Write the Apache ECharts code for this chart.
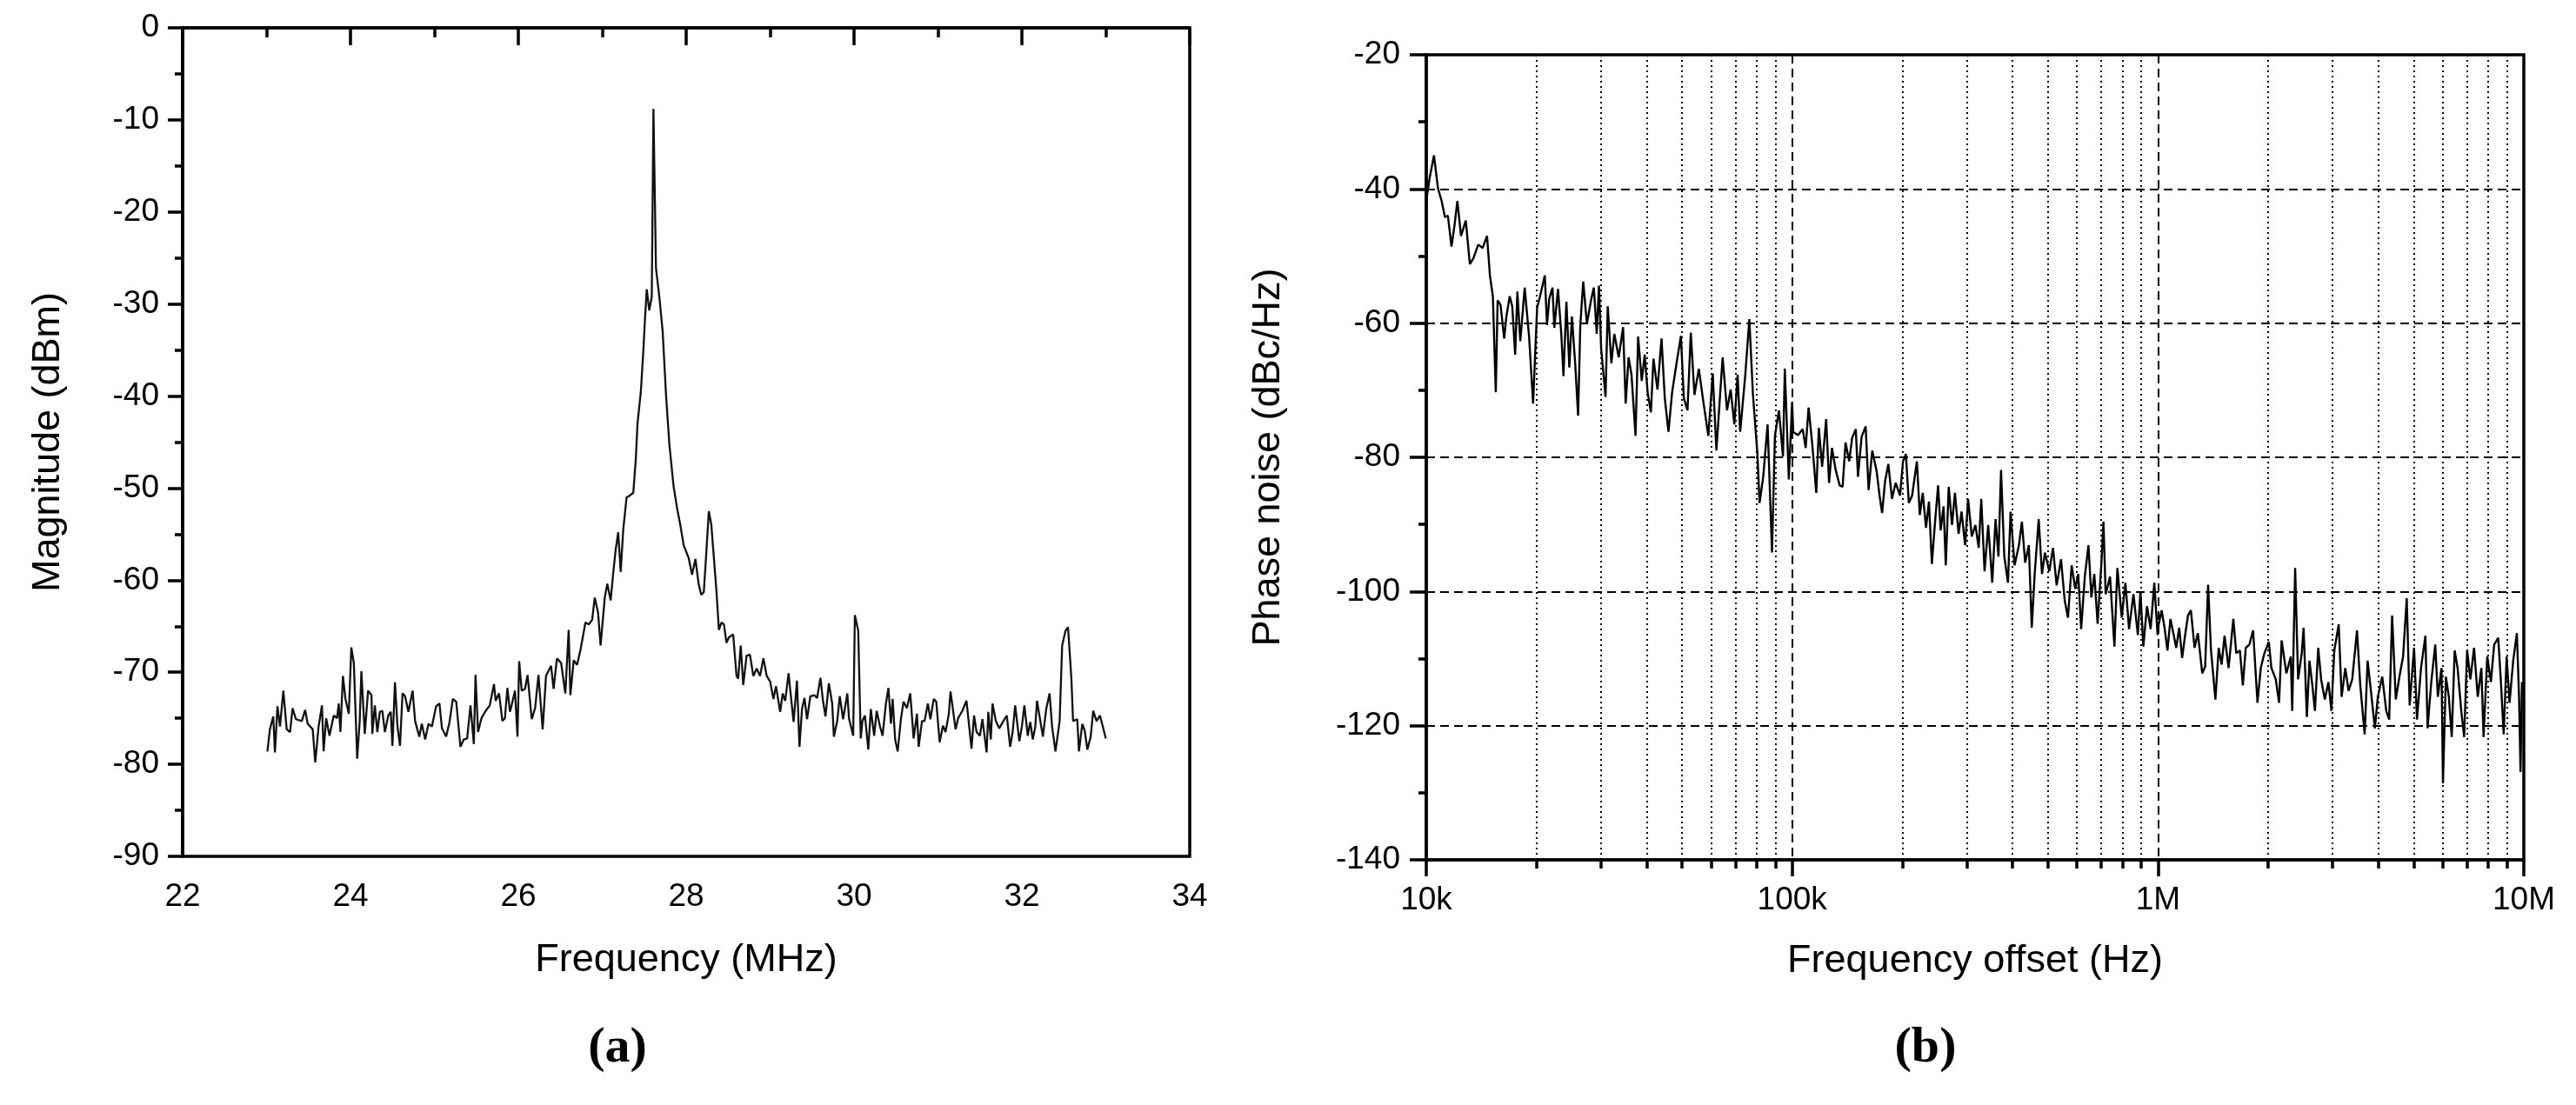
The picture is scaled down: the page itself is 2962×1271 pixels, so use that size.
<!DOCTYPE html>
<html style="height: 100%">
<head>
<meta charset="utf-8">
</head>
<body style="height: 100%; margin: 0; background: #fff">
<div id="container" style="width: 2962px; height: 1271px"></div>
<script type="text/javascript" src="https://cdn.jsdelivr.net/npm/echarts@6/dist/echarts.min.js"></script>
<script type="text/javascript">
// (a) spectrum: frequency in MHz, magnitude in dBm
var specFreq = [
	23.01, 23.04, 23.08, 23.10, 23.13, 23.16, 23.20, 23.24, 23.28, 23.31, 23.35, 23.42, 23.46, 23.49, 23.55, 23.58,
	23.62, 23.66, 23.68, 23.71, 23.75, 23.80, 23.84, 23.86, 23.88, 23.91, 23.94, 23.98, 24.01, 24.04, 24.08, 24.11,
	24.13, 24.17, 24.21, 24.25, 24.26, 24.29, 24.32, 24.35, 24.38, 24.41, 24.45, 24.48, 24.50, 24.53, 24.56, 24.59,
	24.62, 24.65, 24.69, 24.74, 24.77, 24.82, 24.85, 24.89, 24.93, 24.97, 25.02, 25.06, 25.09, 25.14, 25.18, 25.22,
	25.26, 25.31, 25.35, 25.39, 25.43, 25.47, 25.49, 25.52, 25.56, 25.61, 25.66, 25.71, 25.73, 25.77, 25.81, 25.84,
	25.87, 25.90, 25.92, 25.96, 25.99, 26.01, 26.04, 26.08, 26.11, 26.16, 26.20, 26.24, 26.29, 26.33, 26.39, 26.42,
	26.46, 26.51, 26.56, 26.60, 26.62, 26.66, 26.70, 26.74, 26.80, 26.84, 26.88, 26.91, 26.95, 26.98, 27.03, 27.06,
	27.10, 27.13, 27.16, 27.19, 27.22, 27.25, 27.29, 27.33, 27.37, 27.40, 27.42, 27.46, 27.49, 27.51, 27.53, 27.56,
	27.59, 27.61, 27.64, 27.68, 27.72, 27.76, 27.80, 27.85, 27.89, 27.93, 27.97, 28.03, 28.07, 28.11, 28.15, 28.18,
	28.21, 28.24, 28.27, 28.30, 28.32, 28.36, 28.39, 28.42, 28.45, 28.48, 28.51, 28.56, 28.60, 28.62, 28.65, 28.68,
	28.72, 28.76, 28.80, 28.84, 28.88, 28.92, 28.96, 29.00, 29.04, 29.07, 29.12, 29.15, 29.18, 29.22, 29.25, 29.28,
	29.32, 29.35, 29.38, 29.41, 29.44, 29.48, 29.53, 29.56, 29.60, 29.63, 29.66, 29.70, 29.74, 29.76, 29.80, 29.83,
	29.87, 29.92, 29.94, 29.99, 30.01, 30.05, 30.08, 30.10, 30.13, 30.17, 30.20, 30.24, 30.27, 30.31, 30.34, 30.38,
	30.41, 30.44, 30.46, 30.49, 30.52, 30.56, 30.59, 30.63, 30.67, 30.71, 30.75, 30.77, 30.81, 30.84, 30.88, 30.91,
	30.95, 30.98, 31.02, 31.06, 31.09, 31.13, 31.15, 31.21, 31.24, 31.29, 31.34, 31.40, 31.43, 31.46, 31.50, 31.53,
	31.58, 31.60, 31.63, 31.65, 31.69, 31.73, 31.78, 31.82, 31.86, 31.89, 31.92, 31.97, 32.00, 32.03, 32.07, 32.10,
	32.13, 32.16, 32.18, 32.22, 32.25, 32.29, 32.33, 32.36, 32.40, 32.45, 32.48, 32.52, 32.55, 32.59, 32.61, 32.66,
	32.68, 32.72, 32.75, 32.78, 32.82, 32.85, 32.89, 32.93, 32.97, 33.00
];
var specMag = [
	-78.6, -76.2, -74.8, -78.7, -73.7, -75.9, -72.0, -76.2, -76.5, -73.9, -75.1, -75.3, -74.1, -75.6, -76.2, -79.8,
	-75.9, -73.6, -78.6, -75.0, -76.9, -74.7, -75.0, -73.4, -76.5, -70.4, -72.9, -74.5, -67.3, -69.0, -79.4, -75.3,
	-69.9, -76.7, -72.0, -72.5, -76.7, -73.6, -76.5, -74.3, -74.2, -76.5, -74.7, -74.3, -78.0, -71.1, -75.9, -78.0,
	-72.3, -72.6, -74.3, -72.0, -75.3, -77.0, -75.6, -77.3, -75.6, -75.9, -73.7, -73.4, -76.1, -77.0, -75.4, -72.9,
	-73.2, -78.1, -77.3, -77.2, -73.6, -77.8, -70.3, -76.5, -75.0, -74.2, -73.6, -71.3, -73.1, -72.3, -75.3, -75.0,
	-71.7, -74.3, -73.6, -72.0, -77.0, -68.8, -72.0, -71.8, -70.3, -75.1, -73.9, -70.3, -76.2, -70.4, -69.3, -71.8,
	-68.5, -69.0, -72.3, -65.4, -72.5, -68.7, -69.2, -67.6, -64.6, -64.8, -64.3, -61.9, -63.5, -67.1, -61.9, -60.4,
	-62.2, -59.3, -56.7, -54.8, -59.1, -54.5, -51.0, -50.8, -50.5, -46.8, -43.0, -39.5, -35.0, -31.5, -28.4, -30.7,
	-29.2, -8.8, -26.1, -29.2, -33.0, -39.9, -45.3, -49.8, -52.1, -54.0, -56.2, -57.6, -59.4, -57.7, -60.5, -61.6,
	-61.3, -57.0, -52.5, -54.0, -56.4, -61.1, -65.4, -64.6, -64.8, -66.8, -66.2, -65.9, -70.4, -70.7, -67.1, -71.4,
	-68.2, -68.1, -70.4, -69.6, -70.4, -68.5, -70.4, -71.0, -72.9, -71.5, -74.3, -72.3, -73.1, -70.1, -72.8, -75.4,
	-70.9, -78.1, -74.0, -72.8, -75.1, -72.6, -72.5, -72.8, -70.6, -73.1, -74.8, -71.2, -73.4, -77.0, -75.3, -72.6,
	-75.1, -72.3, -75.0, -76.9, -63.8, -65.5, -77.2, -75.3, -74.7, -78.4, -74.0, -76.9, -74.2, -75.9, -76.9, -73.4,
	-71.7, -75.6, -72.9, -77.3, -78.6, -75.0, -73.2, -73.9, -72.3, -77.2, -74.5, -78.1, -75.3, -75.3, -73.4, -75.1,
	-72.9, -73.2, -77.6, -75.8, -76.5, -74.5, -72.1, -76.2, -75.0, -74.2, -73.1, -78.3, -74.7, -76.5, -76.9, -75.1,
	-78.7, -74.3, -77.3, -73.4, -75.3, -76.1, -75.3, -74.7, -78.1, -76.5, -73.6, -77.5, -75.9, -73.6, -76.9, -75.4,
	-77.3, -75.9, -73.1, -75.3, -77.0, -74.0, -72.3, -75.9, -78.6, -75.3, -67.1, -65.5, -65.1, -70.7, -75.3, -75.1,
	-78.6, -75.6, -76.4, -78.4, -77.0, -74.2, -75.3, -74.7, -76.1, -77.2
];

// (b) phase noise: offset as log10(Hz), noise in dBc/Hz
var offsetLog10 = [
	4.002, 4.010, 4.021, 4.032, 4.042, 4.051, 4.059, 4.069, 4.077, 4.085, 4.095, 4.108, 4.119, 4.129, 4.142, 4.154,
	4.166, 4.174, 4.182, 4.190, 4.195, 4.203, 4.213, 4.219, 4.228, 4.235, 4.243, 4.249, 4.257, 4.269, 4.281, 4.292,
	4.303, 4.311, 4.324, 4.330, 4.336, 4.345, 4.350, 4.360, 4.369, 4.375, 4.383, 4.391, 4.398, 4.407, 4.415, 4.421,
	4.429, 4.439, 4.451, 4.458, 4.466, 4.472, 4.478, 4.490, 4.496, 4.506, 4.514, 4.526, 4.538, 4.545, 4.553, 4.561,
	4.572, 4.579, 4.589, 4.597, 4.605, 4.614, 4.621, 4.632, 4.643, 4.652, 4.662, 4.672, 4.684, 4.696, 4.704, 4.714,
	4.723, 4.733, 4.745, 4.756, 4.771, 4.783, 4.793, 4.802, 4.810, 4.822, 4.832, 4.842, 4.851, 4.858, 4.872, 4.883,
	4.893, 4.905, 4.911, 4.921, 4.933, 4.945, 4.953, 4.964, 4.975, 4.980, 4.991, 5.000, 5.003, 5.016, 5.029, 5.037,
	5.045, 5.055, 5.066, 5.073, 5.082, 5.093, 5.101, 5.109, 5.119, 5.130, 5.138, 5.146, 5.156, 5.164, 5.174, 5.180,
	5.190, 5.201, 5.209, 5.219, 5.231, 5.239, 5.246, 5.254, 5.263, 5.273, 5.283, 5.295, 5.303, 5.311, 5.319, 5.328,
	5.341, 5.349, 5.357, 5.366, 5.374, 5.382, 5.390, 5.399, 5.406, 5.414, 5.420, 5.428, 5.437, 5.445, 5.455, 5.463,
	5.473, 5.481, 5.491, 5.501, 5.510, 5.517, 5.526, 5.536, 5.547, 5.556, 5.564, 5.571, 5.580, 5.590, 5.597, 5.608,
	5.620, 5.628, 5.637, 5.647, 5.655, 5.663, 5.674, 5.683, 5.691, 5.703, 5.713, 5.723, 5.735, 5.745, 5.754, 5.764,
	5.774, 5.782, 5.790, 5.800, 5.810, 5.818, 5.826, 5.835, 5.845, 5.851, 5.857, 5.869, 5.881, 5.889, 5.901, 5.911,
	5.921, 5.933, 5.945, 5.952, 5.960, 5.970, 5.980, 5.990, 5.999, 6.002, 6.010, 6.018, 6.026, 6.034, 6.042, 6.050,
	6.058, 6.066, 6.074, 6.082, 6.090, 6.100, 6.109, 6.121, 6.129, 6.137, 6.145, 6.157, 6.166, 6.174, 6.182, 6.193,
	6.206, 6.214, 6.224, 6.232, 6.240, 6.250, 6.260, 6.272, 6.281, 6.291, 6.303, 6.310, 6.322, 6.331, 6.338, 6.351,
	6.363, 6.367, 6.375, 6.383, 6.393, 6.398, 6.407, 6.414, 6.422, 6.429, 6.438, 6.446, 6.456, 6.466, 6.474, 6.482,
	6.494, 6.502, 6.512, 6.521, 6.531, 6.544, 6.553, 6.565, 6.573, 6.583, 6.593, 6.601, 6.613, 6.624, 6.632, 6.640,
	6.650, 6.660, 6.670, 6.680, 6.688, 6.700, 6.708, 6.719, 6.731, 6.737, 6.747, 6.758, 6.765, 6.775, 6.779, 6.787,
	6.795, 6.803, 6.811, 6.819, 6.829, 6.837, 6.845, 6.854, 6.864, 6.874, 6.884, 6.890, 6.900, 6.910, 6.919, 6.930,
	6.937, 6.945, 6.953, 6.961, 6.971, 6.981, 6.987, 6.991, 6.995
];
var phaseNoise = [
	-41.0, -38.1, -35.0, -39.9, -41.8, -44.2, -44.0, -48.6, -45.5, -41.8, -47.0, -44.7, -51.2, -50.3, -48.3, -48.8,
	-47.0, -52.9, -56.0, -70.3, -56.6, -57.3, -62.3, -59.0, -56.0, -57.5, -64.7, -55.3, -62.7, -54.7, -62.0, -72.0,
	-57.7, -56.0, -52.9, -60.3, -56.4, -54.7, -60.7, -54.9, -61.6, -67.9, -56.8, -66.6, -59.0, -66.0, -73.8, -60.3,
	-53.8, -60.1, -56.4, -54.7, -61.6, -54.4, -63.8, -71.0, -57.5, -66.0, -61.6, -65.1, -60.6, -72.0, -65.1, -67.7,
	-76.8, -62.0, -68.6, -64.7, -70.3, -73.3, -65.3, -69.9, -62.3, -71.2, -76.2, -70.3, -66.0, -61.9, -71.2, -73.0,
	-61.4, -70.7, -66.8, -71.2, -76.8, -67.5, -79.0, -71.6, -65.1, -73.0, -69.9, -75.1, -67.7, -76.2, -67.7, -59.4,
	-70.7, -79.4, -86.8, -82.9, -75.1, -94.2, -76.8, -73.0, -79.9, -66.8, -83.3, -71.7, -76.2, -76.7, -75.8, -78.6,
	-72.6, -78.0, -85.3, -75.6, -81.4, -74.3, -83.8, -78.6, -81.9, -84.2, -84.4, -77.8, -80.6, -77.1, -75.8, -82.9,
	-76.9, -75.4, -84.9, -79.0, -82.1, -85.7, -88.3, -83.6, -81.0, -86.2, -83.8, -85.7, -80.6, -79.5, -86.8, -85.7,
	-80.6, -88.6, -85.3, -90.5, -86.6, -95.9, -90.1, -84.2, -90.9, -87.3, -96.1, -84.4, -90.1, -85.3, -91.4, -88.1,
	-93.1, -86.2, -91.8, -90.1, -93.5, -86.2, -97.0, -90.1, -98.7, -89.2, -94.8, -81.9, -94.8, -98.7, -88.1, -96.1,
	-93.1, -89.6, -95.7, -93.1, -105.4, -97.4, -89.2, -97.4, -94.2, -97.0, -93.5, -99.1, -95.2, -101.3, -103.9, -96.1,
	-99.6, -97.4, -105.6, -97.8, -93.1, -100.9, -97.4, -104.8, -96.1, -89.6, -100.4, -97.8, -108.2, -96.5, -103.9, -98.7,
	-105.6, -100.4, -106.5, -100.0, -108.2, -102.2, -105.6, -98.7, -106.5, -104.9, -102.8, -105.4, -108.8, -104.1, -106.2, -108.4,
	-105.4, -109.9, -106.6, -103.6, -102.8, -108.4, -106.2, -112.2, -111.2, -99.0, -108.8, -116.1, -108.4, -110.9, -106.6, -111.4,
	-104.1, -109.2, -108.8, -114.0, -108.4, -107.9, -105.8, -116.6, -111.4, -109.2, -107.5, -111.4, -113.1, -116.6, -107.3, -112.2,
	-109.7, -117.8, -96.5, -113.1, -109.2, -105.4, -118.7, -110.3, -114.0, -117.8, -108.4, -113.1, -116.1, -113.5, -117.8, -108.8,
	-104.9, -115.7, -111.4, -114.8, -113.1, -105.8, -114.0, -121.3, -110.3, -115.3, -120.4, -115.7, -112.7, -117.8, -119.1, -103.6,
	-116.1, -112.7, -109.7, -101.0, -117.0, -108.4, -119.1, -111.4, -106.6, -120.4, -113.5, -107.9, -115.7, -111.4, -128.6, -112.7,
	-115.7, -121.7, -108.8, -111.4, -117.8, -121.7, -108.8, -113.1, -108.4, -115.7, -111.4, -121.7, -109.7, -113.5, -107.9, -106.9,
	-113.1, -121.3, -109.7, -116.6, -110.3, -106.2, -115.7, -126.9, -113.5
];
var offsetTickText = ['10k', '100k', '1M', '10M'];

var FONT = '"Liberation Sans", Arial, sans-serif';
var dom = document.getElementById("container");
var myChart = echarts.init(dom);

function pairs(xs, ys, fx) {
	var out = [];
	for (var i = 0; i < xs.length; i++) {
		out.push([fx ? fx(xs[i]) : xs[i], ys[i]]);
	}
	return out;
}

var blackLine = { color: '#000', width: 3.5 };
var tickLabel = { color: '#000', fontSize: 37, fontFamily: FONT };
var nameStyle = { color: '#000', fontSize: 45, fontFamily: FONT };
var captionRich = {
	p: { fontSize: 58, fontFamily: '"Liberation Serif", serif', color: '#000' },
	b: { fontSize: 58, fontFamily: '"Liberation Serif", serif', fontWeight: 'bold', color: '#000' }
};

var option = {
	backgroundColor: '#fff',
	animation: false,
	title: [{
		text: '{p|(}{b|a}{p|)}',
		left: 705, top: 1172, textAlign: 'center',
		textStyle: { rich: captionRich }
	}, {
		text: '{p|(}{b|b}{p|)}',
		left: 2209, top: 1172, textAlign: 'center',
		textStyle: { rich: captionRich }
	}],
	grid: [
		{ left: 210, top: 32, width: 1158, height: 953, show: true, borderColor: '#000', borderWidth: 3.5, backgroundColor: 'transparent' },
		{ left: 1640, top: 63, width: 1262, height: 926, show: true, borderColor: '#000', borderWidth: 3.5, backgroundColor: 'transparent' }
	],
	xAxis: [{
		gridIndex: 0, type: 'value', min: 22, max: 34, interval: 2,
		name: 'Frequency (MHz)', nameLocation: 'middle', nameGap: 97, nameTextStyle: nameStyle,
		axisLine: { lineStyle: blackLine },
		axisTick: { length: 20, lineStyle: blackLine },
		minorTick: { show: true, splitNumber: 2, length: 11, lineStyle: blackLine },
		axisLabel: Object.assign({ margin: 28 }, tickLabel),
		splitLine: { show: false }
	}, {
		gridIndex: 1, type: 'log', logBase: 10, min: 1e4, max: 1e7,
		name: 'Frequency offset (Hz)', nameLocation: 'middle', nameGap: 94, nameTextStyle: nameStyle,
		axisLine: { lineStyle: blackLine },
		axisTick: { length: 19, lineStyle: blackLine },
		minorTick: { show: true, splitNumber: 9, length: 10, lineStyle: blackLine },
		axisLabel: Object.assign({
			margin: 28,
			formatter: function (v) {
				return offsetTickText[Math.round(Math.log10(v)) - 4];
			}
		}, tickLabel),
		splitLine: { show: true, lineStyle: { color: '#000', width: 2, type: [10, 6] } },
		minorSplitLine: { show: true, lineStyle: { color: '#000', width: 2, type: [2, 4] } }
	}],
	yAxis: [{
		gridIndex: 0, type: 'value', min: -90, max: 0, interval: 10,
		name: 'Magnitude (dBm)', nameLocation: 'middle', nameGap: 132, nameTextStyle: nameStyle,
		axisLine: { lineStyle: blackLine },
		axisTick: { length: 17, lineStyle: blackLine },
		minorTick: { show: true, splitNumber: 2, length: 9, lineStyle: blackLine },
		axisLabel: Object.assign({ margin: 27 }, tickLabel),
		splitLine: { show: false }
	}, {
		gridIndex: 1, type: 'value', min: -140, max: -20, interval: 20,
		name: 'Phase noise (dBc/Hz)', nameLocation: 'middle', nameGap: 159, nameTextStyle: nameStyle,
		axisLine: { lineStyle: blackLine },
		axisTick: { length: 19, lineStyle: blackLine },
		minorTick: { show: true, splitNumber: 2, length: 9, lineStyle: blackLine },
		axisLabel: Object.assign({ margin: 30 }, tickLabel),
		splitLine: { show: true, lineStyle: { color: '#000', width: 2, type: [10, 6] } }
	}],
	series: [{
		type: 'line', xAxisIndex: 0, yAxisIndex: 0,
		data: pairs(specFreq, specMag),
		showSymbol: false, symbol: 'none',
		lineStyle: { color: '#111', width: 2.3 }
	}, {
		type: 'line', xAxisIndex: 1, yAxisIndex: 1,
		data: pairs(offsetLog10, phaseNoise, function (e) { return Math.pow(10, e); }),
		showSymbol: false, symbol: 'none',
		lineStyle: { color: '#000', width: 2.4 }
	}]
};
myChart.setOption(option);
</script>
</body>
</html>
